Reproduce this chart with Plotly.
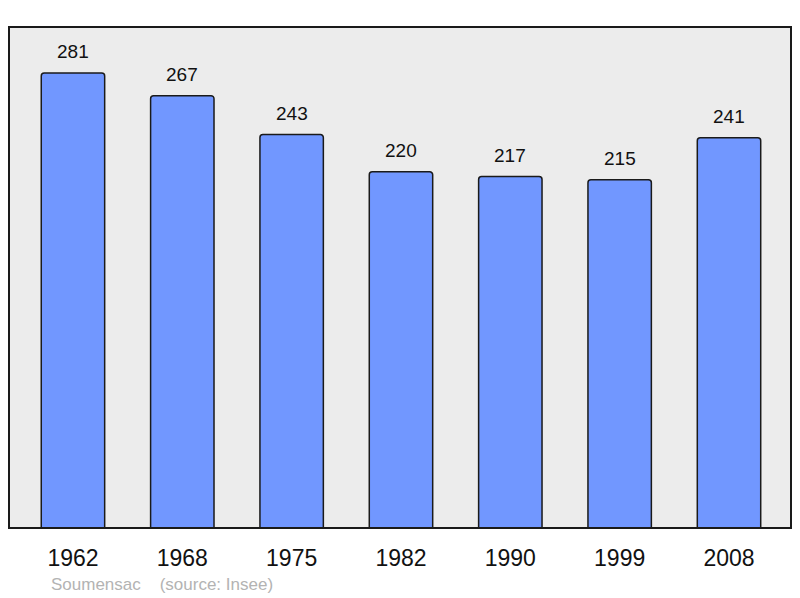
import plotly.graph_objects as go

years = ['1962', '1968', '1975', '1982', '1990', '1999', '2008']
population = [281, 267, 243, 220, 217, 215, 241]
place = 'Soumensac'
source = '(source: Insee)'

xs = list(range(len(years)))

fig = go.Figure(go.Bar(
    x=xs,
    y=population,
    width=0.58,
    marker=dict(color='#7197ff', line=dict(color='#1a1a1a', width=1.5), cornerradius=3),
    hoverinfo='skip'))

for i, v in zip(xs, population):
    fig.add_annotation(x=i, y=v, text=str(v), showarrow=False, yanchor='bottom',
                       yshift=9, font=dict(size=19, color='#111111'))

fig.add_annotation(xref='paper', yref='paper', x=0.051, y=-0.112, xanchor='left',
                   yanchor='middle', showarrow=False,
                   text=place + '&nbsp;&nbsp;&nbsp;&nbsp;' + source,
                   font=dict(size=17, color='#b3b3b3'))

fig.add_shape(type='rect', xref='paper', yref='paper', x0=0, y0=0, x1=1, y1=1,
              line=dict(color='#1a1a1a', width=2), layer='above')

# page body has an 8px margin, so the figure is shifted by 8px
fig.update_layout(
    width=784, height=590,
    margin=dict(l=1, r=1, t=19, b=70),
    paper_bgcolor='white',
    plot_bgcolor='#ececec',
    font=dict(family='Liberation Sans, Arial, sans-serif'),
    showlegend=False,
    xaxis=dict(range=[-0.585, 6.567], tickvals=xs, ticktext=years,
               showgrid=False, zeroline=False, ticks='outside', ticklen=9,
               tickcolor='rgba(0,0,0,0)', tickfont=dict(size=23, color='#111111')),
    yaxis=dict(range=[0, 309.4], showgrid=False, zeroline=False,
               showticklabels=False))

fig.write_html('out.html')
